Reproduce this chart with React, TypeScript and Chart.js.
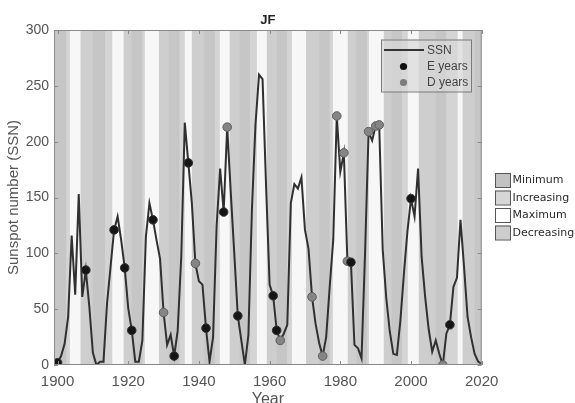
import { useEffect, useRef } from "react";
import { Chart, registerables } from "chart.js";
Chart.register(...registerables);

const years = [
  1900, 1901, 1902, 1903, 1904, 1905, 1906, 1907, 1908, 1909,
  1910, 1911, 1912, 1913, 1914, 1915, 1916, 1917, 1918, 1919,
  1920, 1921, 1922, 1923, 1924, 1925, 1926, 1927, 1928, 1929,
  1930, 1931, 1932, 1933, 1934, 1935, 1936, 1937, 1938, 1939,
  1940, 1941, 1942, 1943, 1944, 1945, 1946, 1947, 1948, 1949,
  1950, 1951, 1952, 1953, 1954, 1955, 1956, 1957, 1958, 1959,
  1960, 1961, 1962, 1963, 1964, 1965, 1966, 1967, 1968, 1969,
  1970, 1971, 1972, 1973, 1974, 1975, 1976, 1977, 1978, 1979,
  1980, 1981, 1982, 1983, 1984, 1985, 1986, 1987, 1988, 1989,
  1990, 1991, 1992, 1993, 1994, 1995, 1996, 1997, 1998, 1999,
  2000, 2001, 2002, 2003, 2004, 2005, 2006, 2007, 2008, 2009,
  2010, 2011, 2012, 2013, 2014, 2015, 2016, 2017, 2018, 2019,
  2020,
];

const ssn = [
  2, 8, 19, 43, 116, 63, 153, 61, 85, 52,
  11, 0, 3, 3, 55, 88, 121, 133, 112, 87,
  51, 31, 3, 3, 22, 115, 145, 130, 112, 95,
  47, 18, 27, 8, 31, 97, 217, 181, 145, 91,
  75, 72, 33, 3, 25, 124, 176, 137, 213, 155,
  100, 44, 22, 0, 27, 140, 215, 260, 256, 160,
  72, 62, 31, 22, 28, 36, 145, 162, 158, 168,
  121, 104, 61, 37, 20, 8, 25, 70, 112, 223,
  173, 190, 93, 92, 18, 15, 6, 100, 209, 201,
  214, 215, 103, 60, 30, 10, 9, 40, 82, 120,
  149, 133, 176, 97, 61, 32, 12, 22, 10, 0,
  28, 36, 70, 78, 130, 88, 43, 25, 10, 3,
  1,
];

const eYears = [1900, 1908, 1916, 1919, 1921, 1927, 1933, 1937, 1942, 1947, 1951, 1961, 1962, 1983, 2000, 2011];
const dYears = [1930, 1939, 1948, 1963, 1972, 1975, 1979, 1981, 1982, 1988, 1990, 1991, 2009];

const phaseNames = ["Minimum", "Increasing", "Maximum", "Decreasing"];
const phaseColors = ["#c6c6c6", "#d4d4d4", "#f7f7f7", "#cecece"];
const legendBoxColors = ["#c2c2c2", "#d6d6d6", "#ffffff", "#cdcdcd"];

const bandStart = [
  1899, 1902.5, 1903.5, 1906.5, 1910, 1913.5, 1915.5, 1918.7, 1921, 1924, 1924.7, 1928.7,
  1931.5, 1934.5, 1936, 1938, 1941.5, 1944.5, 1945.9, 1948.7, 1951.5, 1954.5, 1956.4, 1959.2,
  1962, 1965, 1966.3, 1970.3, 1974, 1977, 1977.9, 1982.1, 1984.5, 1987.5, 1988.1, 1992.3,
  1994.5, 1997.5, 1999.1, 2002.2, 2007, 2010, 2013.2, 2014.6, 2018,
];
const bandEnd = [
  1902.5, 1903.5, 1906.5, 1910, 1913.5, 1915.5, 1918.7, 1921, 1924, 1924.7, 1928.7, 1931.5,
  1934.5, 1936, 1938, 1941.5, 1944.5, 1945.9, 1948.7, 1951.5, 1954.5, 1956.4, 1959.2, 1962,
  1965, 1966.3, 1970.3, 1974, 1977, 1977.9, 1982.1, 1984.5, 1987.5, 1988.1, 1992.3, 1994.5,
  1997.5, 1999.1, 2002.2, 2007, 2010, 2013.2, 2014.6, 2018, 2020,
];
const bandPhase = [
  0, 1, 2, 3, 0, 1, 2, 3, 0, 1, 2, 3,
  0, 1, 2, 3, 0, 1, 2, 3, 0, 1, 2, 3,
  0, 1, 2, 3, 0, 1, 2, 3, 0, 1, 2, 3,
  0, 1, 2, 3, 0, 1, 2, 3, 0,
];

const xMin = 1899;
const xMax = 2020;
const yMin = 0;
const yMax = 300;

const titleText = "JF";
const yTitle = "Sunspot number (SSN)";
const xTitle = "Year";
const seriesLabels = ["SSN", "E years", "D years"];

const ssnAt = (y: number) => ssn[years.indexOf(y)];
const SANS = "'Liberation Sans', Arial, sans-serif";

const bandsPlugin = {
  id: "bands",
  beforeDatasetsDraw(chart: any) {
    const { ctx, chartArea: a, scales } = chart;
    const xs = scales.x;
    ctx.save();
    ctx.beginPath();
    ctx.rect(a.left, a.top, a.right - a.left, a.bottom - a.top);
    ctx.clip();
    for (let i = 0; i < bandStart.length; i++) {
      const x0 = xs.getPixelForValue(bandStart[i]);
      const x1 = xs.getPixelForValue(bandEnd[i]);
      ctx.fillStyle = phaseColors[bandPhase[i]];
      ctx.fillRect(x0, a.top, x1 - x0 + 0.5, a.bottom - a.top);
    }
    ctx.restore();
  },
};

const framePlugin = {
  id: "frame",
  afterDraw(chart: any) {
    const { ctx, chartArea: a, scales } = chart;
    ctx.save();
    ctx.strokeStyle = "#8a8a8a";
    ctx.lineWidth = 1;
    ctx.strokeRect(a.left + 0.5, a.top + 0.5, a.right - a.left - 1, a.bottom - a.top - 1);
    ctx.beginPath();
    scales.y.ticks.forEach((t: any) => {
      const py = Math.round(scales.y.getPixelForValue(t.value)) + 0.5;
      ctx.moveTo(a.left, py);
      ctx.lineTo(a.left + 4, py);
      ctx.moveTo(a.right, py);
      ctx.lineTo(a.right - 4, py);
    });
    scales.x.ticks.forEach((t: any) => {
      const px = Math.round(scales.x.getPixelForValue(t.value)) + 0.5;
      ctx.moveTo(px, a.bottom);
      ctx.lineTo(px, a.bottom - 4);
      ctx.moveTo(px, a.top);
      ctx.lineTo(px, a.top + 4);
    });
    ctx.stroke();

    ctx.fillStyle = "#222";
    ctx.font = "bold 13px " + SANS;
    ctx.textAlign = "center";
    ctx.textBaseline = "middle";
    ctx.fillText(titleText, (a.left + a.right) / 2, 20);

    const lx = 381, ly = 39.5, lw = 90, lh = 52;
    ctx.fillStyle = "rgba(216,216,216,0.7)";
    ctx.fillRect(lx, ly, lw, lh);
    ctx.strokeStyle = "#7a7a7a";
    ctx.strokeRect(lx + 0.5, ly + 0.5, lw, lh);
    ctx.strokeStyle = "#333";
    ctx.lineWidth = 1.8;
    ctx.beginPath();
    ctx.moveTo(384, 50);
    ctx.lineTo(424, 50);
    ctx.stroke();
    ctx.lineWidth = 1;
    ctx.fillStyle = "#111";
    ctx.beginPath();
    ctx.arc(403.5, 66.5, 3.6, 0, Math.PI * 2);
    ctx.fill();
    ctx.fillStyle = "#7d7d7d";
    ctx.beginPath();
    ctx.arc(403.5, 82.5, 3.6, 0, Math.PI * 2);
    ctx.fill();
    ctx.font = "12px " + SANS;
    ctx.textAlign = "left";
    ctx.fillStyle = "#444";
    ctx.fillText(seriesLabels[0], 427, 51);
    ctx.fillText(seriesLabels[1], 427, 67);
    ctx.fillText(seriesLabels[2], 427, 83);

    ctx.font = "11px 'DejaVu Sans', Verdana, sans-serif";
    phaseNames.forEach((name, i) => {
      const by = 173 + i * 17.5;
      ctx.fillStyle = legendBoxColors[i];
      ctx.fillRect(495, by, 15, 14);
      ctx.strokeStyle = "#555";
      ctx.lineWidth = 1;
      ctx.strokeRect(495.5, by + 0.5, 15, 14);
      ctx.fillStyle = "#2a2a2a";
      ctx.textAlign = "left";
      ctx.textBaseline = "middle";
      ctx.fillText(name, 512.5, by + 7.5);
    });
    ctx.restore();
  },
};

export default function App() {
  const ref = useRef<HTMLCanvasElement | null>(null);
  useEffect(() => {
    if (!ref.current) return;
    const chart = new Chart(ref.current, {
      type: "line",
      data: {
        datasets: [
          {
            label: seriesLabels[1],
            data: eYears.map((y) => ({ x: y, y: ssnAt(y) })),
            showLine: false,
            pointRadius: 4.3,
            pointBackgroundColor: "#151515",
            pointBorderColor: "#333",
            pointBorderWidth: 1,
            order: 1,
          },
          {
            label: seriesLabels[2],
            data: dYears.map((y) => ({ x: y, y: ssnAt(y) })),
            showLine: false,
            pointRadius: 4.3,
            pointBackgroundColor: "#858585",
            pointBorderColor: "#5e5e5e",
            pointBorderWidth: 1,
            order: 2,
          },
          {
            label: seriesLabels[0],
            data: years.map((y, i) => ({ x: y, y: ssn[i] })),
            borderColor: "#303030",
            borderWidth: 2,
            pointRadius: 0,
            tension: 0,
            order: 3,
          },
        ],
      },
      options: {
        animation: false,
        responsive: false,
        maintainAspectRatio: false,
        layout: { padding: { left: 0, top: 30, right: 93.3, bottom: 0 } },
        plugins: { legend: { display: false }, tooltip: { enabled: false }, title: { display: false } },
        scales: {
          x: {
            type: "linear",
            min: xMin,
            max: xMax,
            grid: { display: false, drawTicks: false },
            border: { display: false },
            ticks: {
              stepSize: 20,
              includeBounds: false,
              autoSkip: false,
              maxRotation: 0,
              padding: 8,
              color: "#555",
              font: { size: 15, family: SANS },
              callback: (v: any) => String(v),
            },
            afterBuildTicks: (s: any) => {
              s.ticks = s.ticks.filter((t: any) => t.value % 20 === 0);
            },
            afterFit: (s: any) => {
              s.height = 38;
            },
            title: {
              display: true,
              text: xTitle,
              color: "#555",
              font: { size: 16, family: SANS },
              padding: { top: 0, bottom: -6 },
            },
          },
          y: {
            min: yMin,
            max: yMax,
            grid: { display: false, drawTicks: false },
            border: { display: false },
            ticks: {
              stepSize: 50,
              padding: 5,
              color: "#555",
              font: { size: 14, family: SANS },
            },
            afterFit: (s: any) => {
              s.width = 54;
            },
            title: {
              display: true,
              text: yTitle,
              color: "#555",
              font: { size: 15, family: SANS },
              padding: { top: 5, bottom: 0 },
            },
          },
        },
      },
      plugins: [bandsPlugin, framePlugin],
    });
    return () => chart.destroy();
  }, []);
  return (
    <div style={{ width: 575, height: 403, position: "absolute", left: 0, top: 0 }}>
      <canvas ref={ref} width={575} height={403} style={{ width: 575, height: 403, display: "block" }} />
    </div>
  );
}
